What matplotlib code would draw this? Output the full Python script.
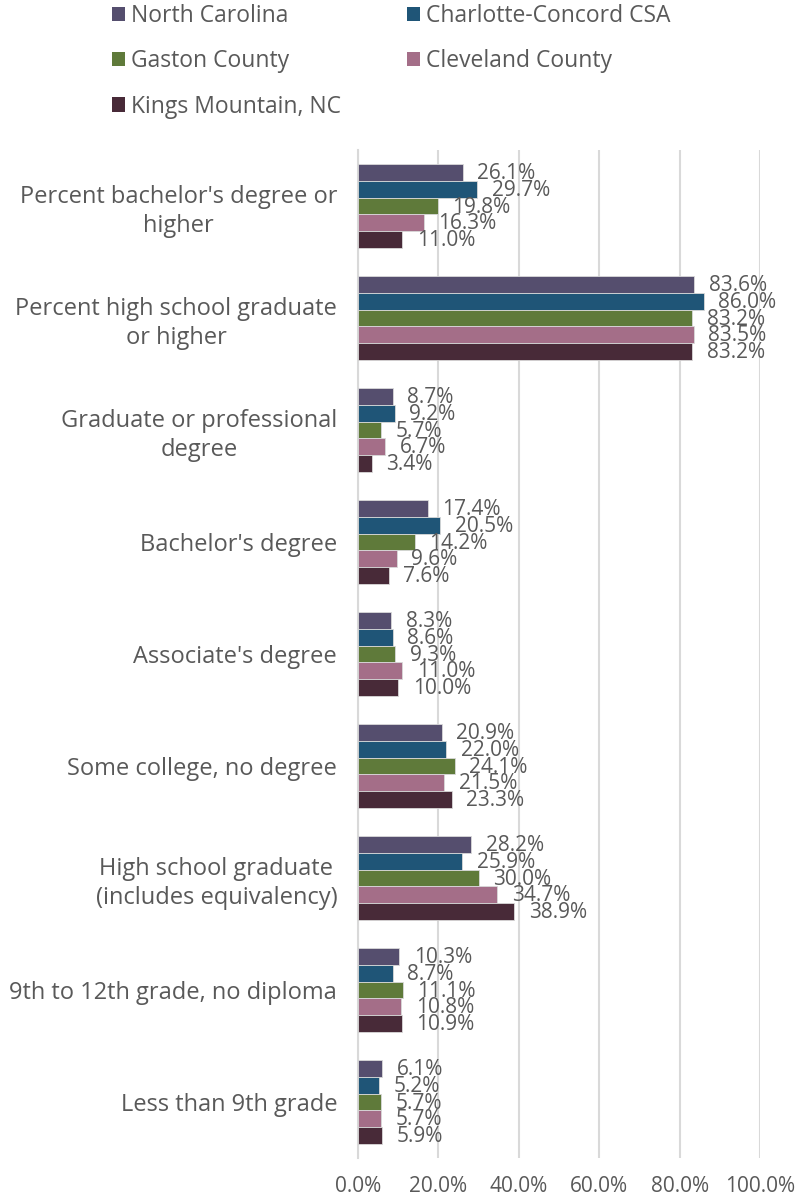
import numpy as np
import matplotlib.pyplot as plt
from matplotlib.patches import Patch

plt.rcParams['font.family'] = ['Open Sans', 'DejaVu Sans']

categories = [
    "Percent bachelor's degree or\nhigher",
    "Percent high school graduate\nor higher",
    "Graduate or professional\ndegree",
    "Bachelor's degree",
    "Associate's degree",
    "Some college, no degree",
    "High school graduate\n(includes equivalency)",
    "9th to 12th grade, no diploma",
    "Less than 9th grade",
]
series_names = ["North Carolina", "Charlotte-Concord CSA", "Gaston County",
                "Cleveland County", "Kings Mountain, NC"]
north_carolina = [26.1, 83.6, 8.7, 17.4, 8.3, 20.9, 28.2, 10.3, 6.1]
charlotte_csa = [29.7, 86.0, 9.2, 20.5, 8.6, 22.0, 25.9, 8.7, 5.2]
gaston = [19.8, 83.2, 5.7, 14.2, 9.3, 24.1, 30.0, 11.1, 5.7]
cleveland = [16.3, 83.5, 6.7, 9.6, 11.0, 21.5, 34.7, 10.8, 5.7]
kings_mountain = [11.0, 83.2, 3.4, 7.6, 10.0, 23.3, 38.9, 10.9, 5.9]
x_ticks = [0, 20, 40, 60, 80, 100]

colors = ['#554e6e', '#1f5577', '#5f7a3a', '#a46e88', '#482a38']
text_color = '#595959'
values = [north_carolina, charlotte_csa, gaston, cleveland, kings_mountain]

fig = plt.figure(figsize=(8.03, 12.02), dpi=100)
ax = fig.add_axes([0.4458, 0.0366, 0.5006, 0.8386])

y = np.arange(len(categories))
bar_h = 0.149
for i, (vals, c) in enumerate(zip(values, colors)):
    pos = y - 2 * bar_h + i * bar_h
    ax.barh(pos, vals, height=bar_h, color=c, edgecolor='#d9d9d9',
            linewidth=0.6, zorder=3)
    for p, v in zip(pos, vals):
        ax.text(v + 3.6, p + 0.01, f"{v:.1f}%", va='center', ha='left',
                fontsize=15, color=text_color, zorder=4)

ax.set_ylim(len(categories) - 0.5, -0.5)
ax.set_xlim(0, 100)
ax.set_yticks(y)
ax.set_yticklabels(categories, fontsize=17, color=text_color,
                   multialignment='center', linespacing=1.28)
ax.set_xticks(x_ticks)
ax.set_xticklabels([f"{t:.1f}%" for t in x_ticks], fontsize=15, color=text_color)
ax.tick_params(axis='both', length=0)
ax.tick_params(axis='y', pad=15)
ax.tick_params(axis='x', pad=13)
ax.grid(axis='x', color='#d9d9d9', linewidth=1.5, zorder=0)
for side in ['top', 'right', 'bottom']:
    ax.spines[side].set_visible(False)
ax.spines['left'].set_color('#d9d9d9')
ax.spines['left'].set_linewidth(1.5)

# row-wise order in a two-column legend
order = [0, 2, 4, 1, 3]
handles = [Patch(facecolor=colors[k], label=series_names[k]) for k in order]
fig.legend(handles=handles, ncol=2, loc='upper left',
           bbox_to_anchor=(112 / 803, 1 - 4 / 1202), frameon=False,
           fontsize=16.5, borderpad=0, borderaxespad=0,
           handlelength=0.57, handleheight=0.57, handletextpad=0.25,
           labelspacing=0.93, columnspacing=2.9, labelcolor=text_color)

fig.savefig('out.png', dpi=100)
